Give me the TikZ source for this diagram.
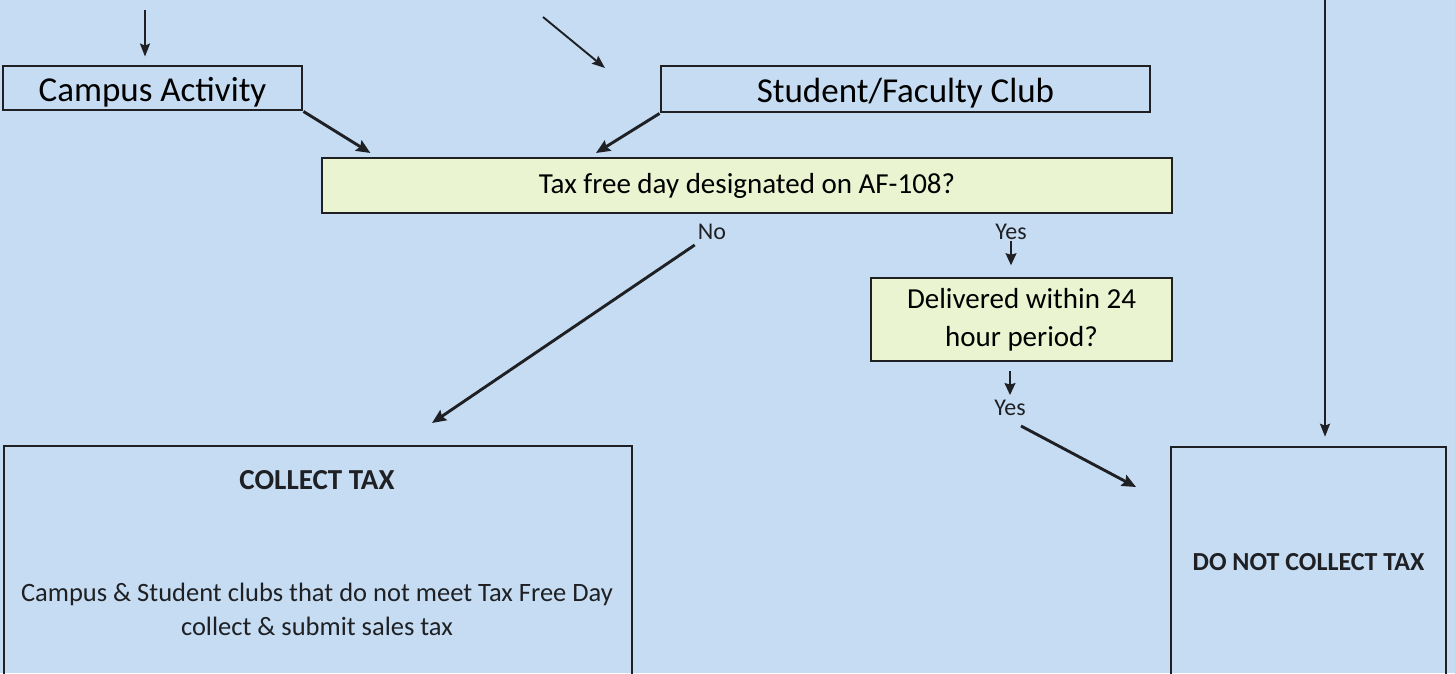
\documentclass[tikz,border=0pt]{standalone}
\usepackage{fontspec}
\setmainfont{Carlito}
\usetikzlibrary{calc,arrows.meta,positioning}

\definecolor{sheet}{RGB}{198,220,242}
\definecolor{askfill}{RGB}{234,244,208}
\definecolor{ink}{RGB}{30,32,36}

\begin{document}
\begin{tikzpicture}[x=1pt,y=-1pt]

\tikzset{
srcbox/.style={draw=ink,line width=2.9pt,inner sep=0pt,text height=26pt,text depth=0pt,font=\fontsize{35}{40}\selectfont},
askbox/.style={draw=ink,line width=1.6pt,fill=askfill,inner sep=0pt,align=center,font=\fontsize{29}{38}\selectfont},
endbox/.style={draw=ink,line width=2.6pt,inner sep=0pt},
lab/.style={inner sep=0pt,font=\fontsize{24}{28}\selectfont,text=ink},
flow/.style={-{Stealth[length=14pt,width=12pt,inset=2pt]},line width=2.9pt,draw=ink},
feed/.style={-{Stealth[length=13pt,width=10pt,inset=2pt]},line width=1.9pt,draw=ink},
tick/.style={-{Stealth[length=12pt,width=11pt,inset=1.5pt]},line width=1.4pt,draw=ink}
}

% Sheet
\fill[sheet] (0,0) rectangle (1455,673);
\useasboundingbox (0,0) rectangle (1455,673);
\clip (0,0) rectangle (1455,673);

% Nodes
\node[srcbox,minimum width=299pt,minimum height=44pt] (campus) at (152.5,88) {Campus Activity};
\node[srcbox,minimum width=489pt,minimum height=46pt] (club) at (905.5,89) {Student/Faculty Club};
\node[askbox,minimum width=850pt,minimum height=55pt] (taxfree) at (747,185.5) {Tax free day designated on AF-108?};
\node[lab] (no) at (712,232) {No};
\node[lab] (yesa) at (1011,232) {Yes};
\node[askbox,minimum width=301pt,minimum height=83pt] (deliver) at (1021.5,319.5) {Delivered within 24\\hour period?};
\node[lab] (yesb) at (1010,408) {Yes};
\node[endbox,minimum width=628pt,minimum height=274pt] (collect) at (318,583) {};
\node[endbox,minimum width=275pt,minimum height=273pt] (donot) at (1308.5,583.5) {};

% Coordinates
\coordinate (topa) at (145,10);
\coordinate (topb) at (543,17);
\coordinate (topbend) at (605,68);
\coordinate (topc) at (1325,-5);
\coordinate (intoask) at ($(taxfree.north west)+(56,0)$);
\coordinate (intoaskb) at ($(taxfree.north west)+(268,0)$);
\coordinate (nostart) at ($(no.south west)+(-3,5)$);
\coordinate (nohit) at (432,423);
\coordinate (yesstart) at ($(yesb.south)+(11,10)$);
\coordinate (yeshit) at (1136,487);

% Arrows
\draw[feed,shorten >=8pt] (topa) -- (topa |- campus.north);
\draw[feed] (topb) -- (topbend);
\draw[flow,shorten >=8pt] (campus.south east) -- (intoask);
\draw[flow,shorten >=8pt] (club.south west) -- (intoaskb);
\draw[flow] (nostart) -- (nohit);
\draw[tick,shorten <=1pt,shorten >=12pt] (yesa.south) -- (yesa.south |- deliver.north);
\draw[tick,shorten <=9pt,shorten >=5pt] (deliver.south -| yesb) -- (yesb.north);
\draw[flow] (yesstart) -- (yeshit);
\draw[feed,shorten >=9pt] (topc) -- (topc |- donot.north);

% Labels
\node[font=\bfseries\fontsize{29}{34}\selectfont,text=ink] (collecthead) at (317,480) {COLLECT TAX};
\node[align=center,font=\fontsize{26.5}{34}\selectfont,text=ink] (collectbody) at (317,609) {Campus \& Student clubs that do not meet Tax Free Day\\collect \& submit sales tax};
\node[font=\bfseries\fontsize{26}{30}\selectfont,text=ink] (donothead) at (1308.5,562) {DO NOT COLLECT TAX};

\end{tikzpicture}
\end{document}
